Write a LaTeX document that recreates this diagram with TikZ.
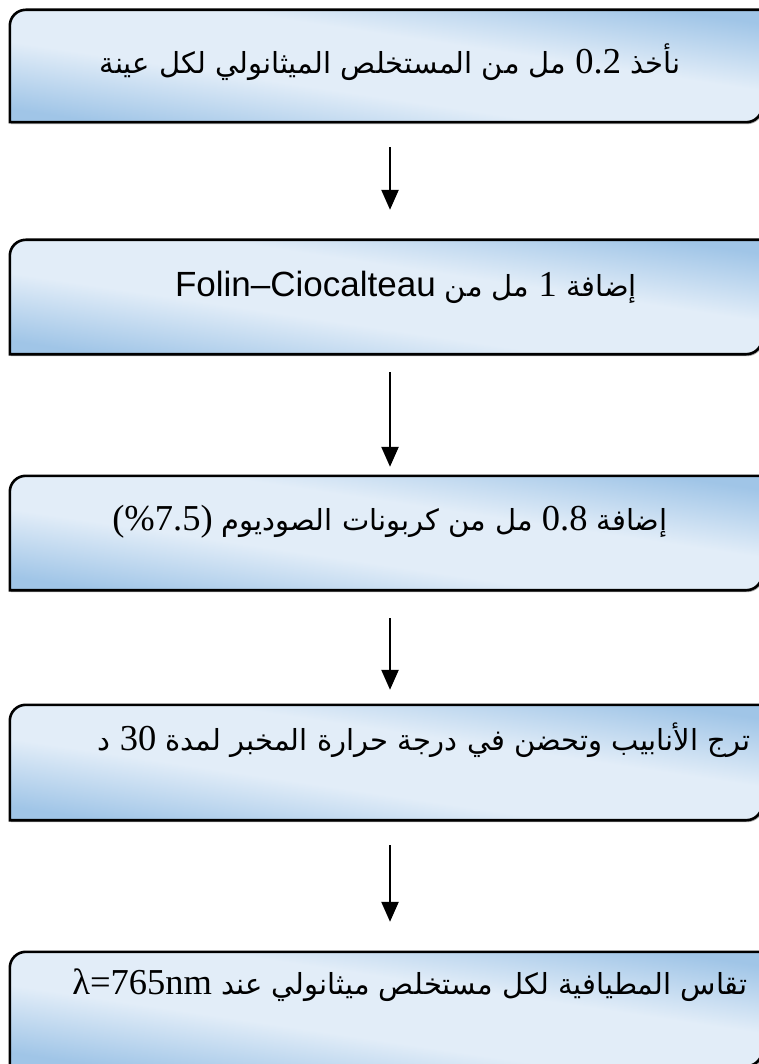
\documentclass[tikz,border=0pt]{standalone}
\usepackage{fontspec}
\newfontfamily\arabicfont[Script=Arabic]{DejaVu Sans}
\newfontfamily\serifnum{Liberation Serif}
\newfontfamily\sanslat{Liberation Sans}
\TeXXeTstate=1
\usetikzlibrary{arrows.meta,shadows}
\definecolor{bluedark}{RGB}{160,197,231}
\definecolor{bluelight}{RGB}{226,237,248}
\pgfdeclareverticalshading{boxshade}{100bp}{color(0bp)=(bluedark); color(25bp)=(bluedark);
  color(42bp)=(bluelight); color(58bp)=(bluelight); color(75bp)=(bluedark); color(100bp)=(bluedark)}
\newcommand\numtxt[1]{\beginL{\fontsize{36.5}{36.5}\selectfont\serifnum #1}\endL}
\newcommand\flowframe[1]{%
  \path[boxframe] (#1.west) [rounded corners=16pt] -- (#1.north west) -- (#1.north)
    [sharp corners] -- (#1.north east) -- (#1.east)
    [rounded corners=16pt] -- (#1.south east) -- (#1.south)
    [sharp corners] -- (#1.south west) -- cycle;}
\tikzset{
  boxshape/.style={minimum width=752pt, minimum height=#1, inner sep=0pt, draw=none},
  boxframe/.style={draw=black, line width=2.6pt, shading=boxshade, shading angle=-8.5,
    drop shadow={shadow xshift=1pt, shadow yshift=-2pt, opacity=0.35, fill=black}},
  flowtext/.style={inner sep=0pt, font=\fontsize{29}{34}\selectfont\arabicfont},
  flowarrow/.style={line width=2.4pt, -{Triangle[length=20pt,width=17pt]}},
}
\begin{document}
\begin{tikzpicture}[x=1pt,y=1pt]
\useasboundingbox (0,0) rectangle (758,-1064);
\node[boxshape=112pt] (b1) at (386,-66) {};
\node[boxshape=114pt] (b2) at (386,-297) {};
\node[boxshape=114pt] (b3) at (386,-533) {};
\node[boxshape=115pt] (b4) at (386,-762.5) {};
\node[boxshape=114pt] (b5) at (386,-1009) {};
\flowframe{b1}
\flowframe{b2}
\flowframe{b3}
\flowframe{b4}
\flowframe{b5}
\node[flowtext] (t1) at (390,-62) {\beginR نأخذ \numtxt{0.2} مل من المستخلص الميثانولي لكل عينة\endR};
\node[flowtext] (t2) at (406,-287) {\beginR إضافة \numtxt{1} مل من \beginL{\fontsize{35}{35}\selectfont\sanslat Folin–Ciocalteau}\endL\endR};
\node[flowtext] (t3) at (390,-522) {\beginR إضافة \numtxt{0.8} مل من كربونات الصوديوم \numtxt{(\%7.5)}\endR};
\node[flowtext] (t4) at (424,-740) {\beginR ترج الأنابيب وتحضن في درجة حرارة المخبر لمدة \numtxt{30} د\endR};
\node[flowtext] (t5) at (410,-985) {\beginR تقاس المطيافية لكل مستخلص ميثانولي عند \numtxt{λ=765nm}\endR};
\draw[flowarrow] ([xshift=4pt,yshift=-25pt]b1.south) -- ([xshift=4pt,yshift=30pt]b2.north);
\draw[flowarrow] ([xshift=4pt,yshift=-18pt]b2.south) -- ([xshift=4pt,yshift=9pt]b3.north);
\draw[flowarrow] ([xshift=4pt,yshift=-28pt]b3.south) -- ([xshift=4pt,yshift=15pt]b4.north);
\draw[flowarrow] ([xshift=4pt,yshift=-25pt]b4.south) -- ([xshift=4pt,yshift=30pt]b5.north);
\end{tikzpicture}
\end{document}
